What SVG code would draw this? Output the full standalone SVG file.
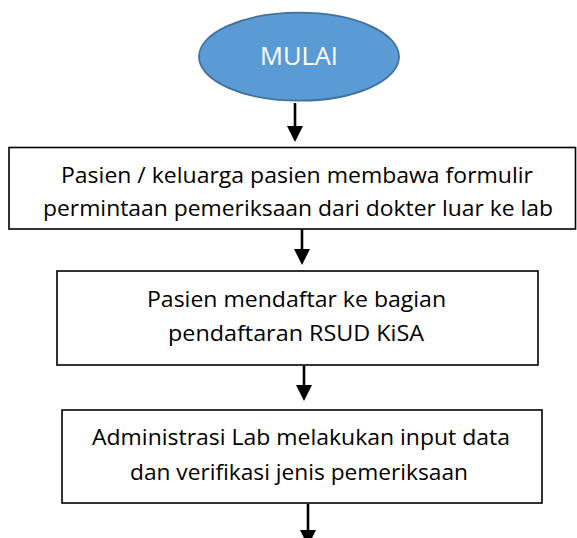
<svg xmlns="http://www.w3.org/2000/svg" width="577" height="538" viewBox="0 0 577 538">
  <style>
    .box { fill: #ffffff; stroke: #000000; stroke-width: 1.6; }
    .txt { font-family: "Open Sans", "Noto Sans", sans-serif; font-size: 21px; fill: #000000; text-anchor: middle; }
    .start-txt { font-family: "Open Sans", "Noto Sans", sans-serif; font-size: 25.5px; fill: #ffffff; text-anchor: middle; }
    .conn { stroke: #000000; stroke-width: 2.6; fill: none; marker-end: url(#arrow); }
  </style>
  <defs>
    <marker id="arrow" viewBox="0 0 16 16" refX="0" refY="8" markerWidth="16" markerHeight="16" markerUnits="userSpaceOnUse" orient="auto">
      <path d="M0,0 L16,8 L0,16 z" fill="#000000"/>
    </marker>
  </defs>
  <rect width="577" height="538" fill="#ffffff"/>

  <g id="connectors">
    <line class="conn" x1="295" y1="103" x2="295" y2="126"/>
    <line class="conn" x1="302" y1="229" x2="302" y2="249"/>
    <line class="conn" x1="304" y1="366" x2="304" y2="385"/>
    <line class="conn" x1="308" y1="504" x2="308" y2="530"/>
  </g>

  <g id="mulai">
    <ellipse cx="299" cy="56.7" rx="100" ry="44" fill="#5B9BD5" stroke="#41719C" stroke-width="1.8"/>
    <text class="start-txt" x="299" y="65" textLength="78" lengthAdjust="spacingAndGlyphs">MULAI</text>
  </g>

  <g id="step1">
    <rect class="box" x="9" y="147.5" width="566.5" height="81.5"/>
    <text class="txt" x="297" y="183" textLength="472" lengthAdjust="spacingAndGlyphs">Pasien / keluarga pasien membawa formulir</text>
    <text class="txt" x="298" y="216" textLength="510" lengthAdjust="spacingAndGlyphs">permintaan pemeriksaan dari dokter luar ke lab</text>
  </g>

  <g id="step2">
    <rect class="box" x="57" y="271" width="481" height="94"/>
    <text class="txt" x="296.5" y="307" textLength="299" lengthAdjust="spacingAndGlyphs">Pasien mendaftar ke bagian</text>
    <text class="txt" x="296" y="341" textLength="256" lengthAdjust="spacingAndGlyphs">pendaftaran RSUD KiSA</text>
  </g>

  <g id="step3">
    <rect class="box" x="62" y="410" width="480" height="93"/>
    <text class="txt" x="301" y="445" textLength="418" lengthAdjust="spacingAndGlyphs">Administrasi Lab melakukan input data</text>
    <text class="txt" x="299" y="480" textLength="338" lengthAdjust="spacingAndGlyphs">dan verifikasi jenis pemeriksaan</text>
  </g>
</svg>
